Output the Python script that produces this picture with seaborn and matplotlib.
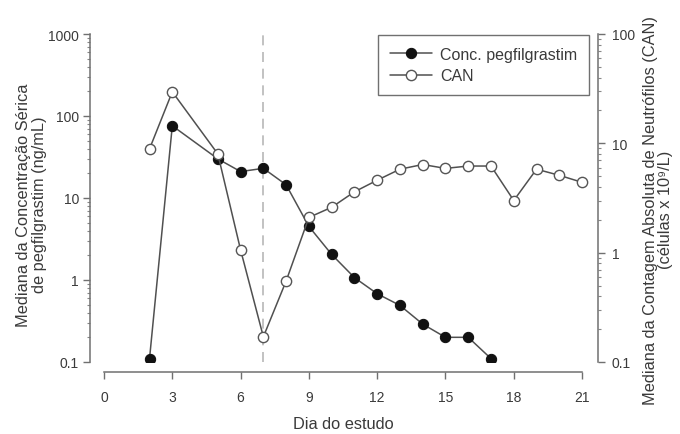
import matplotlib
matplotlib.use('Agg')
import matplotlib.pyplot as plt
import matplotlib.ticker as ticker
import seaborn as sns

# Data
days_conc = [2, 3, 5, 6, 7, 8, 9, 10, 11, 12, 13, 14, 15, 16, 17]
conc_peg = [0.11, 76, 30, 21, 23, 14.5, 4.5, 2.05, 1.07, 0.68, 0.49, 0.29, 0.2, 0.2, 0.11]

days_can = [2, 3, 5, 6, 7, 8, 9, 10, 11, 12, 13, 14, 15, 16, 17, 18, 19, 20, 21]
can_vals = [8.9, 29.6, 8.0, 1.06, 0.17, 0.55, 2.1, 2.6, 3.6, 4.6, 5.8, 6.4, 5.9, 6.2, 6.2, 3.0, 5.8, 5.1, 4.4]

x_ticks = [0, 3, 6, 9, 12, 15, 18, 21]

sns.set_style('ticks')
plt.rcParams['font.family'] = ['Liberation Sans', 'DejaVu Sans']

text_col = '#3a3a3a'
line_col = '#505050'
axis_col = '#707070'

fig = plt.figure(figsize=(6.8, 4.35), dpi=100)
ax = fig.add_axes([90 / 680, 72 / 435, 508 / 680, 328 / 435])
ax2 = ax.twinx()

# Serum concentration (left axis)
sns.lineplot(x=days_conc, y=conc_peg, ax=ax, color=line_col, lw=1.1,
             marker='o', markersize=7.4, markerfacecolor='#111111',
             markeredgecolor='#111111', label='Conc. pegfilgrastim', legend=False)

# ANC (right axis)
sns.lineplot(x=days_can, y=can_vals, ax=ax2, color=line_col, lw=1.1,
             marker='o', markersize=7.4, markerfacecolor='white',
             markeredgecolor='#555555', markeredgewidth=1.0, label='CAN', legend=False)

ax.axvline(7, color='#b8b8b8', linestyle=(0, (6, 4)), lw=1.2, zorder=0)

ax.set_yscale('log')
ax2.set_yscale('log')
ax.set_ylim(0.1, 1000)
ax2.set_ylim(0.1, 100)
ax.set_xlim(-0.615, 21.7)

fmt = ticker.FuncFormatter(lambda v, _: f'{v:g}')
for a in (ax, ax2):
    a.yaxis.set_major_locator(ticker.LogLocator(base=10))
    a.yaxis.set_minor_locator(ticker.LogLocator(base=10, subs=range(2, 10)))
    a.yaxis.set_major_formatter(fmt)
    a.yaxis.set_minor_formatter(ticker.NullFormatter())
    a.tick_params(axis='both', which='major', direction='out', length=5,
                  width=1, color=axis_col, labelcolor=text_col, labelsize=10)
    a.tick_params(axis='y', which='minor', direction='out', length=2.5,
                  width=0.8, color='#888888')

ax.set_xticks(x_ticks)
ax.tick_params(axis='x', pad=8)
ax.tick_params(axis='y', pad=3)
ax2.tick_params(axis='y', pad=5)

for name, sp in ax.spines.items():
    sp.set_color(axis_col)
    sp.set_linewidth(1.1)
ax.spines['top'].set_visible(False)
ax.spines['right'].set_visible(False)
ax.spines['bottom'].set_position(('outward', 7.2))
ax.spines['bottom'].set_bounds(0, 21)
for name, sp in ax2.spines.items():
    sp.set_visible(name == 'right')
    sp.set_color(axis_col)
    sp.set_linewidth(1.1)

lab_size = 11.8
ax.set_xlabel('Dia do estudo', fontsize=lab_size, color=text_col)
ax.set_ylabel('Mediana da Concentração Sérica\nde pegfilgrastim (ng/mL)',
              fontsize=lab_size, color=text_col, linespacing=1.05)
ax2.set_ylabel('Mediana da Contagem Absoluta de Neutrófilos (CAN)\n(células x 10⁹/L)',
               fontsize=lab_size, color=text_col, linespacing=1.05, rotation=90)
ax.xaxis.set_label_coords(0.498, -0.165)
ax.yaxis.set_label_coords(-0.085, 0.482)
ax2.yaxis.set_label_coords(1.088, 0.466)

h1, l1 = ax.get_legend_handles_labels()
h2, l2 = ax2.get_legend_handles_labels()
leg = ax2.legend(h1 + h2, l1 + l2, loc='upper right', bbox_to_anchor=(0.982, 0.997),
                 borderaxespad=0, fancybox=False, framealpha=1, edgecolor=axis_col,
                 fontsize=11.5, handlelength=2.6, handletextpad=0.5,
                 borderpad=0.75, labelspacing=0.4, labelcolor=text_col)
leg.get_frame().set_linewidth(1.0)

fig.savefig('out.png', dpi=100)
